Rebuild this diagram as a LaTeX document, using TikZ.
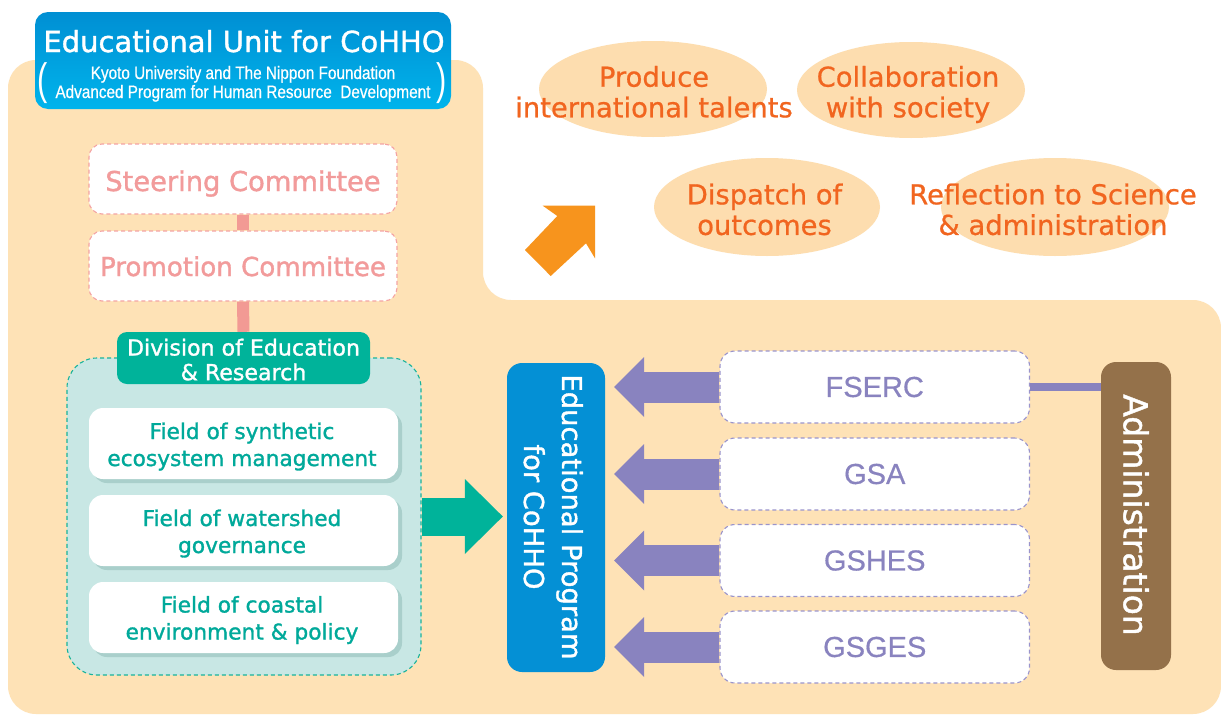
\documentclass[tikz,border=0pt]{standalone}
\usepackage{fontspec}
\setmainfont{DejaVu Sans}
\newfontfamily\medf[FakeBold=1.3]{DejaVu Sans}
\newfontfamily\semif[FakeBold=0.7]{DejaVu Sans}
\newfontfamily\arialf[FakeBold=0.5]{Liberation Sans}
\newfontfamily\narrowf[FakeStretch=0.85,FakeBold=0.6]{Liberation Sans}
\newfontfamily\parenf[FakeStretch=0.7]{Liberation Sans}
\usetikzlibrary{shapes.geometric,arrows.meta}
\definecolor{cBeige}{HTML}{FEE2B6}
\definecolor{cEll}{HTML}{FDDDAF}
\definecolor{cGoal}{HTML}{F1651F}
\definecolor{cOrArrow}{HTML}{F7941D}
\definecolor{cTitleTop}{HTML}{008FD3}
\definecolor{cTitleBot}{HTML}{00B4EC}
\definecolor{cPinkText}{HTML}{F29B9B}
\definecolor{cPinkLine}{HTML}{F4A3A3}
\definecolor{cPinkBar}{HTML}{F29A94}
\definecolor{cTealDark}{HTML}{00B39A}
\definecolor{cTealText}{HTML}{00A99A}
\definecolor{cTealPale}{HTML}{C8E7E4}
\definecolor{cTealLine}{HTML}{19B39B}
\definecolor{cFieldShadow}{HTML}{A9CFCB}
\definecolor{cProgBlue}{HTML}{0490D5}
\definecolor{cPurp}{HTML}{8983BF}
\definecolor{cPurpLine}{HTML}{9A94CC}
\definecolor{cBrown}{HTML}{94714A}
\newcommand\setfs[2]{\fontsize{#1pt}{#2pt}\selectfont}
\begin{document}
\begin{tikzpicture}[x=1pt,y=-1pt,
  titlebox/.style={rounded corners=13pt, top color=cTitleTop, bottom color=cTitleBot, draw=none, minimum width=416pt, minimum height=97pt, inner sep=0pt},
  whitetext/.style={text=white, inner sep=0pt},
  goalell/.style={ellipse, fill=cEll, draw=none, inner sep=0pt},
  goaltext/.style={text=cGoal, align=center, font=\semif\setfs{27.4}{30.6}, inner sep=0pt},
  commbox/.style={draw=cPinkLine, dash pattern=on 4pt off 3pt, line width=1.1pt, fill=white, rounded corners=13pt, minimum width=308pt, minimum height=70pt, inner sep=0pt, text=cPinkText},
  pinkbar/.style={draw=cPinkBar, line width=12pt},
  divlabel/.style={fill=cTealDark, rounded corners=10pt, minimum width=253pt, minimum height=52pt, inner sep=0pt},
  divtext/.style={text=white, align=center, font=\medf\setfs{22.1}{23}, inner sep=0pt},
  contbox/.style={fill=cTealPale, draw=cTealLine, dash pattern=on 4pt off 3pt, line width=1.1pt, rounded corners=30pt, minimum width=354pt, minimum height=317pt, inner sep=0pt},
  fieldbox/.style={fill=white, rounded corners=14pt, minimum width=309pt, minimum height=71pt, inner sep=0pt, preaction={fill=cFieldShadow, transform canvas={xshift=4pt, yshift=-4pt}}},
  fieldtext/.style={text=cTealText, align=center, font=\medf\setfs{21.7}{27}, inner sep=0pt},
  progbox/.style={fill=cProgBlue, rounded corners=15pt, minimum width=98pt, minimum height=309pt, inner sep=0pt},
  progtext/.style={text=white, align=center, rotate=-90, font=\medf\setfs{27.4}{38}, inner sep=0pt},
  gsbox/.style={fill=white, draw=cPurpLine, dash pattern=on 4pt off 3pt, line width=1.1pt, rounded corners=15pt, minimum width=309.5pt, minimum height=72pt, inner sep=0pt, text=cPurp, font=\arialf\setfs{29}{32}},
  adminbox/.style={fill=cBrown, rounded corners=15pt, minimum width=70pt, minimum height=308pt, inner sep=0pt},
  admintext/.style={text=white, rotate=-90, font=\medf\setfs{33}{36}, inner sep=0pt},
  tealarrow/.style={draw=cTealDark, line width=38pt, -{Triangle[length=38pt,width=75pt,line width=0pt]}},
  purparrow/.style={draw=cPurp, line width=31pt, shorten >=9pt, -{Triangle[length=30pt,width=60pt,line width=0pt]}},
  purpbar/.style={draw=cPurp, line width=8pt},
  orarrow/.style={fill=cOrArrow}
]
\useasboundingbox (0,0) rectangle (1221,715);
\fill[white] (0,0) rectangle (1221,715);
% beige background
\fill[cBeige, rounded corners=28pt] (8,714) -- (8,60) -- (483,60) -- (483,300) -- (1221,300) -- (1221,714) -- cycle;

% title
\node[titlebox] (unitbox) at (243,60.5) {};
\node[whitetext, anchor=base, font=\medf\setfs{29}{32}] (unittitle) at (244,52) {Educational Unit for CoHHO};
\node[whitetext, align=center, font=\narrowf\setfs{18}{19}] (unitsub) at (243,84.7) {\strut Kyoto University and The Nippon Foundation\\\strut Advanced Program for Human Resource~ Development};
\node[whitetext, font=\parenf\setfs{44}{46}] (lpar) at (42.5,83) {(};
\node[whitetext, font=\parenf\setfs{44}{46}] (rpar) at (442,83) {)};

% goals
\node[goalell, minimum width=228pt, minimum height=96pt] (e1) at (653,89) {};
\node[goalell, minimum width=228pt, minimum height=96pt] (e2) at (911,90) {};
\node[goalell, minimum width=226pt, minimum height=98pt] (e3) at (767,207) {};
\node[goalell, minimum width=228pt, minimum height=98pt] (e4) at (1055,207) {};
\node[goaltext] (t1) at (654,95.9) {\strut Produce\\\strut international talents};
\node[goaltext] (t2) at (908,95.9) {\strut Collaboration\\\strut with society};
\node[goaltext] (t3) at (764.5,213.5) {\strut Dispatch of\\\strut outcomes};
\node[goaltext] (t4) at (1053,213.5) {\strut Reflection to Science\\\strut \& administration};
\fill[orarrow] (542.7,205.7) -- (595,205.7) -- (595,258.3) -- (586,243.3) -- (550.7,276) -- (525,250) -- (557.3,216) -- cycle;

% committees
\node[commbox, font=\medf\setfs{27.3}{30}, text height=47pt, text depth=23pt] (steer) at (243,179) {Steering Committee};
\node[commbox, font=\medf\setfs{26.1}{30}, text height=45pt, text depth=25pt] (prom) at (243,266) {Promotion Committee};
\draw[pinkbar] (steer.south) -- (prom.north);

% division
\node[contbox] (cont) at (244,516.5) {};
\node[divlabel] (div) at (243.5,358) {};
\draw[pinkbar] (prom.south) -- (div.north);
\node[divtext] (divt) at (243.5,362.9) {\strut Division of Education\\\strut \& Research};
\node[fieldbox] (f1) at (243.5,443.5) {};
\node[fieldbox] (f2) at (243.5,530.5) {};
\node[fieldbox] (f3) at (243.5,617.5) {};
\node[fieldtext] (f1t) at (242,447.1) {\strut Field of synthetic\\\strut ecosystem management};
\node[fieldtext] (f2t) at (242,534.1) {\strut Field of watershed\\\strut governance};
\node[fieldtext] (f3t) at (242,620.6) {\strut Field of coastal\\\strut environment \& policy};

% program
\node[progbox] (prog) at (556,517.5) {};
\node[progtext] (progt) at (550.6,517) {\strut Educational Program\\\strut for CoHHO};
\draw[tealarrow] (cont.east) -- ([xshift=-4pt]cont.east -| prog.west);

% graduate schools
\node[gsbox] (fserc) at (874.75,387) {FSERC};
\node[gsbox] (gsa) at (874.75,474) {GSA};
\node[gsbox] (gshes) at (874.75,560.5) {GSHES};
\node[gsbox] (gsges) at (874.75,647) {GSGES};
\draw[purparrow] (fserc.west) -- (fserc.west -| prog.east);
\draw[purparrow] (gsa.west) -- (gsa.west -| prog.east);
\draw[purparrow] (gshes.west) -- (gshes.west -| prog.east);
\draw[purparrow] (gsges.west) -- (gsges.west -| prog.east);

% administration
\node[adminbox] (admin) at (1136,516) {};
\node[admintext] (admint) at (1136,515) {Administration};
\draw[purpbar] (fserc.east) -- (fserc.east -| admin.west);
\end{tikzpicture}
\end{document}
